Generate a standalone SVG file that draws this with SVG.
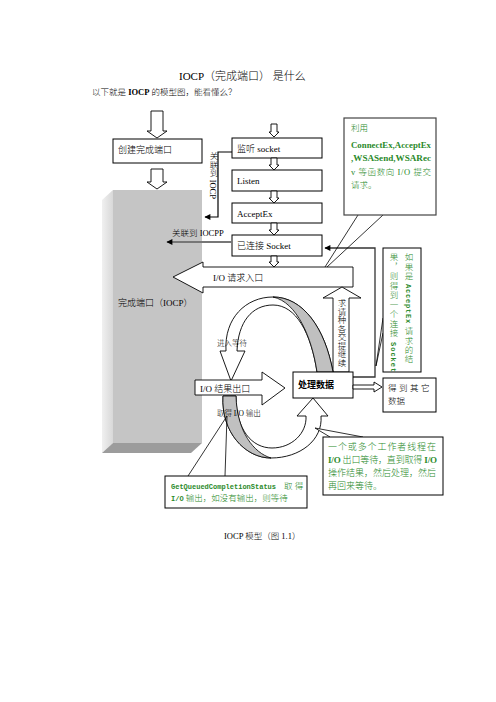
<svg xmlns="http://www.w3.org/2000/svg" width="496" height="702" viewBox="0 0 496 702">
<defs>
<style>
text{font-family:'Liberation Serif','Noto Sans CJK SC',serif;fill:#000;font-weight:300}
.box{fill:#fff;stroke:#000;stroke-width:1}
.hol{fill:#fff;stroke:#000;stroke-width:0.9}
.t9{font-size:9px}
.g{fill:#2a8a2a}
.mono{font-family:'Liberation Mono','DejaVu Sans Mono',monospace;font-weight:bold}
.vt{writing-mode:vertical-rl}
.b{font-weight:bold}
</style>
<linearGradient id="lf" x1="0" x2="1" y1="0" y2="0"><stop offset="0" stop-color="#f0f0f0"/><stop offset="1" stop-color="#d8d8d8"/></linearGradient>
<marker id="ah" markerUnits="userSpaceOnUse" viewBox="0 0 10 10" refX="9" refY="5" markerWidth="7" markerHeight="6" orient="auto"><path d="M0,0 L10,5 L0,10 z" fill="#000"/></marker>
</defs>
<rect width="496" height="702" fill="#fff"/>

<g id="title">
<text x="179" y="80" font-size="11">IOCP（完成端口） 是什么</text>
<text x="92" y="95" font-size="8.5">以下就是 <tspan class="b">IOCP</tspan> 的模型图，能看懂么？</text>
</g>

<g id="iocp">
<polygon points="113,190 102,200 102,453 113,443" fill="url(#lf)"/>
<polygon points="113,443 202,443 191,453 102,453" fill="#9c9c9c"/>
<rect x="113" y="190" width="89" height="253" fill="#c5c5c5"/>
<text x="118" y="306" class="t9" fill="#333">完成端口（IOCP）</text>
</g>

<g id="create">
<path class="hol" d="M151,111 H163 V131 H167 L157,138 L147,131 H151 Z"/>
<rect class="box" x="113" y="139" width="89" height="24"/>
<text x="118" y="153" class="t9">创建完成端口</text>
<path class="hol" d="M151,169 H163 V182 H167 L157,189 L147,182 H151 Z"/>
</g>

<g id="listen-socket">
<path class="hol" d="M271,124 H277 V132 H279 L274,137 L269,132 H271 Z"/>
<rect class="box" x="232" y="138" width="90" height="20"/>
<text x="237" y="152" class="t9">监听 socket</text>
<path class="hol" d="M271,158 H277 V165 H279 L274,170 L269,165 H271 Z"/>
</g>
<g id="listen">
<rect class="box" x="232" y="170" width="90" height="21"/>
<text x="237" y="184" class="t9">Listen</text>
<path class="hol" d="M271,191 H277 V198 H279 L274,203 L269,198 H271 Z"/>
</g>
<g id="acceptex">
<rect class="box" x="232" y="203" width="90" height="20"/>
<text x="237" y="217" class="t9">AcceptEx</text>
<path class="hol" d="M271,223 H277 V230 H279 L274,235 L269,230 H271 Z"/>
</g>
<g id="connected">
<rect class="box" x="232" y="235" width="90" height="21"/>
<text x="237" y="249" class="t9">已连接 Socket</text>
<path class="hol" d="M271,256 H277 V262 H279 L274,267 L269,262 H271 Z"/>
</g>

<g id="connectors">
<polyline points="232,152 218,152 218,217 205,217" fill="none" stroke="#000" stroke-width="1.2" marker-end="url(#ah)"/>
<text x="213" y="152" font-size="8.5" class="vt">关联到 IOCP</text>
<line x1="232" y1="242" x2="167" y2="242" stroke="#777" stroke-width="2" marker-end="url(#ah)"/>
<text x="172" y="236" font-size="8.5" fill="#555">关联到 <tspan fill="#000">IOCPP</tspan></text>
<polyline points="353,377 375,377 375,248 325,248" fill="none" stroke="#333" stroke-width="1.3" marker-end="url(#ah)"/>
</g>

<g id="io-request">
<path class="hol" d="M353,267 H203 V262 L173,277 L203,293 V287 H353 Z"/>
<text x="213" y="281" class="t9">I/O 请求入口</text>
</g>

<g id="continue">
<path class="hol" d="M333,372 V298 H323 L342,287 L361,298 H349 V372 Z"/>
<text x="341" y="299" font-size="8.5" class="vt" fill="#444">求请种各交提继续</text>
</g>

<g id="wait-loop">
<path class="hol" d="M333,372 C325,328 303,297 273,297 C246,297 224,318 226,351 L220,351 L231,381 L245,351 L237,351 C238,322 252,305 273,305 C296,305 311,333 317,372 Z"/>
<path d="M273,297 C303,297 325,328 333,372 L317,372 C312,338 297,302 273,297 Z" fill="#c0c0c0" stroke="#000" stroke-width="0.8"/>
<text x="217" y="346" font-size="7.5" fill="#555">进入等待</text>
</g>

<g id="output-loop">
<path class="hol" d="M223,396 C221,432 245,458 271,458 C300,458 323,440 321,416 L328,416 L313,398 L297,416 L306,416 C307,433 292,448 272,448 C252,448 236,430 236,396 Z"/>
<path d="M223,396 C221,432 245,458 271,458 C254,453 237,432 236,396 Z" fill="#c0c0c0" stroke="#000" stroke-width="0.8"/>
<text x="217" y="416" font-size="7.5" fill="#555">取得 I/O 输出</text>
</g>

<g id="io-result">
<path class="hol" d="M195,380 H262 V372 L285,388 L262,405 V395 H195 Z"/>
<text x="200" y="392" class="t9">I/O 结果出口</text>
</g>

<g id="process">
<rect class="box" x="293" y="372" width="60" height="26"/>
<text x="298" y="388" font-size="9" class="b" fill="#ff0000">处理数据</text>
<path class="hol" d="M353,385 H374 V382 L382,387 L374,392 V389 H353 Z"/>
</g>

<g id="other-data">
<rect class="box" x="383" y="378" width="53" height="34"/>
<text x="388" y="391" font-size="8.5" letter-spacing="2.5">得到其它</text>
<text x="388" y="404" font-size="8.5">数据</text>
</g>

<g id="note-submit">
<line x1="358" y1="215" x2="325" y2="267" stroke="#000" stroke-width="0.8"/>
<line x1="383" y1="215" x2="327" y2="267" stroke="#000" stroke-width="0.8"/>
<rect x="344" y="118" width="92" height="97" fill="#fff" stroke="#444" stroke-width="1.2"/>
<text x="351" y="131" font-size="8.5" class="g">利用</text>
<text x="351" y="148" font-size="9" class="g b" textLength="80" lengthAdjust="spacingAndGlyphs">ConnectEx,AcceptEx</text>
<text x="351" y="161" font-size="9" class="g b" textLength="80" lengthAdjust="spacingAndGlyphs">,WSASend,WSARec</text>
<text x="351" y="175" font-size="8.5" class="g" textLength="80">v 等函数向 I/O 提交</text>
<text x="351" y="188" font-size="8.5" class="g">请求。</text>
</g>

<g id="note-accept">
<polyline points="383,318 376,366 383,333" fill="#fff" stroke="#000" stroke-width="0.8"/>
<rect x="383" y="248" width="38" height="124" fill="#fff" stroke="#000" stroke-width="1"/>
<text x="408" y="253" font-size="8.5" class="vt g" letter-spacing="0.8">如果是 <tspan class="mono" font-size="7">AcceptEx</tspan> 请求的结</text>
<text x="393" y="253" font-size="8.5" class="vt g" letter-spacing="1">果，则得到一个连接 <tspan class="mono" font-size="7">Socket</tspan></text>
</g>

<g id="note-worker">
<polyline points="330,437 315,428 363,437" fill="#fff" stroke="#000" stroke-width="0.8"/>
<rect x="323" y="437" width="120" height="58" fill="#fff" stroke="#000" stroke-width="1"/>
<text x="328" y="450" font-size="9" class="g" textLength="108">一个或多个工作者线程在</text>
<text x="328" y="463" font-size="9" class="g" textLength="109"><tspan class="b">I/O</tspan> 出口等待，直到取得 <tspan class="b">I/O</tspan></text>
<text x="328" y="476" font-size="9" class="g" textLength="108">操作结果，然后处理，然后</text>
<text x="328" y="489" font-size="9" class="g">再回来等待。</text>
</g>

<g id="note-getqueued">
<polyline points="188,476 227,416 225,476" fill="none" stroke="#000" stroke-width="0.8"/>
<rect x="165" y="476" width="142" height="32" fill="#fff" stroke="#000" stroke-width="1"/>
<text x="171" y="489" class="g"><tspan class="mono" font-size="7">GetQueuedCompletionStatus</tspan><tspan x="284" font-size="8.5">取 得</tspan></text>
<text x="171" y="501" font-size="8.5" class="g"><tspan class="mono" font-size="7">I/O</tspan> 输出，如没有输出，则等待</text>
</g>

<g id="caption">
<text x="224" y="539" font-size="8.5">IOCP 模型（图 1.1）</text>
</g>
</svg>
